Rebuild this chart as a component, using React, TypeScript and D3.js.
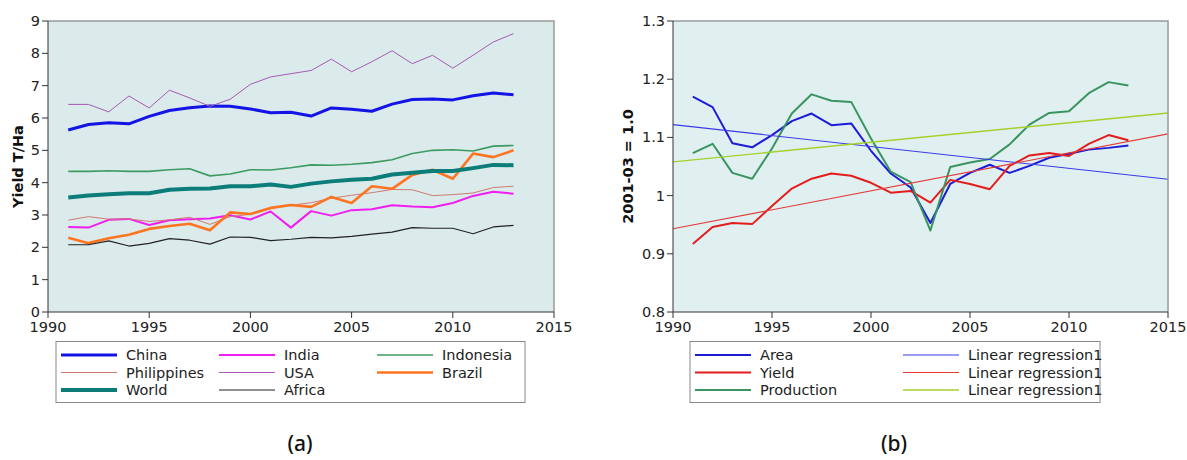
import React from 'react';
import * as d3 from 'd3';

const years = d3.range(1991, 2014);

// panel (a) yields, T/Ha
const china = [5.63, 5.8, 5.85, 5.82, 6.05, 6.23, 6.32, 6.37, 6.36, 6.28, 6.16, 6.18, 6.06, 6.31, 6.27, 6.21, 6.43, 6.57, 6.59, 6.56, 6.69, 6.77, 6.72];
const india = [2.63, 2.61, 2.85, 2.88, 2.69, 2.84, 2.87, 2.89, 2.99, 2.86, 3.11, 2.61, 3.12, 2.98, 3.15, 3.18, 3.3, 3.26, 3.24, 3.37, 3.59, 3.72, 3.66];
const indonesia = [4.35, 4.35, 4.37, 4.35, 4.35, 4.4, 4.43, 4.21, 4.27, 4.4, 4.39, 4.46, 4.55, 4.54, 4.57, 4.62, 4.71, 4.9, 5.0, 5.02, 4.98, 5.13, 5.15];
const philippines = [2.84, 2.95, 2.87, 2.88, 2.8, 2.85, 2.93, 2.71, 2.95, 3.02, 3.2, 3.3, 3.38, 3.52, 3.61, 3.69, 3.79, 3.78, 3.6, 3.63, 3.68, 3.85, 3.89];
const usa = [6.42, 6.42, 6.19, 6.68, 6.31, 6.86, 6.62, 6.36, 6.58, 7.04, 7.27, 7.37, 7.47, 7.82, 7.43, 7.74, 8.08, 7.68, 7.94, 7.54, 7.94, 8.35, 8.61];
const brazil = [2.3, 2.13, 2.28, 2.39, 2.57, 2.66, 2.73, 2.53, 3.08, 3.03, 3.22, 3.31, 3.25, 3.56, 3.37, 3.89, 3.81, 4.24, 4.4, 4.12, 4.9, 4.79, 5.0];
const world = [3.54, 3.6, 3.64, 3.67, 3.67, 3.78, 3.81, 3.82, 3.89, 3.89, 3.94, 3.87, 3.97, 4.04, 4.09, 4.12, 4.25, 4.31, 4.36, 4.36, 4.45, 4.55, 4.54];
const africa = [2.08, 2.08, 2.2, 2.04, 2.12, 2.27, 2.22, 2.1, 2.32, 2.31, 2.21, 2.25, 2.31, 2.29, 2.34, 2.41, 2.47, 2.61, 2.59, 2.59, 2.42, 2.63, 2.68];

// panel (b) index, 2001-03 = 1.0
const area = [1.17, 1.152, 1.09, 1.083, 1.104, 1.128, 1.141, 1.121, 1.124, 1.077, 1.038, 1.014, 0.953, 1.02, 1.039, 1.053, 1.039, 1.051, 1.065, 1.072, 1.079, 1.082, 1.086];
const yieldIdx = [0.917, 0.946, 0.953, 0.951, 0.982, 1.012, 1.029, 1.038, 1.034, 1.022, 1.005, 1.008, 0.988, 1.027, 1.02, 1.011, 1.051, 1.069, 1.073, 1.068, 1.089, 1.104, 1.095];
const production = [1.073, 1.089, 1.039, 1.029, 1.081, 1.141, 1.174, 1.163, 1.161, 1.098, 1.041, 1.023, 0.94, 1.049, 1.057, 1.063, 1.088, 1.122, 1.142, 1.145, 1.176, 1.195, 1.189];
// regression lines, value at 1990 and 2015
const regYears = [1990, 2015];
const regArea = [1.122, 1.028];
const regYield = [0.943, 1.106];
const regProd = [1.058, 1.142];

const xTicks = [1990, 1995, 2000, 2005, 2010, 2015];
const yTicksA = d3.range(0, 10);
const yTicksB = [0.8, 0.9, 1.0, 1.1, 1.2, 1.3];

const seriesA = [
  { name: 'China', values: china, color: '#1414e6', width: 3 },
  { name: 'India', values: india, color: '#f01ef0', width: 2 },
  { name: 'Indonesia', values: indonesia, color: '#3d9b62', width: 1.6 },
  { name: 'Philippines', values: philippines, color: '#d07a74', width: 1 },
  { name: 'USA', values: usa, color: '#a55bb4', width: 1 },
  { name: 'Brazil', values: brazil, color: '#ff7420', width: 2.6 },
  { name: 'World', values: world, color: '#0c7d78', width: 4 },
  { name: 'Africa', values: africa, color: '#222222', width: 1.2 },
];

const seriesB = [
  { name: 'Area', years: years, values: area, color: '#1c1cd8', width: 2 },
  { name: 'Yield', years: years, values: yieldIdx, color: '#e41c1c', width: 2 },
  { name: 'Production', years: years, values: production, color: '#3a9460', width: 2 },
  { name: 'Linear regression1', years: regYears, values: regArea, color: '#3a3ae8', width: 1.1 },
  { name: 'Linear regression1', years: regYears, values: regYield, color: '#e63a3a', width: 1.1 },
  { name: 'Linear regression1', years: regYears, values: regProd, color: '#a6d12a', width: 1.4 },
];

const font = 'DejaVu Sans, sans-serif';
const top = 21;
const bottom = 312;

function Panel({ x0, x1, yDomain, yTicks, fmt, bg, title, titleX, children }: any) {
  const x = d3.scaleLinear().domain([1990, 2015]).range([x0, x1]);
  const y = d3.scaleLinear().domain(yDomain).range([bottom, top]);
  return (
    <g>
      <rect x={x0} y={top} width={x1 - x0} height={bottom - top} fill={bg} />
      {children(x, y)}
      <path d={`M${x0},${top}H${x1}V${bottom}`} fill="none" stroke="#999" strokeWidth={1.5} />
      <path d={`M${x0},${top}V${bottom}H${x1}`} fill="none" stroke="#333" strokeWidth={1} />
      {yTicks.map((t: number) => (
        <g key={t}>
          <line x1={x0 - 6} x2={x0} y1={y(t)} y2={y(t)} stroke="#333" />
          <text x={x0 - 8} y={y(t)} dy="0.35em" textAnchor="end" fontSize={14.5} fill="#222">{fmt(t)}</text>
        </g>
      ))}
      {xTicks.map((t) => (
        <g key={t}>
          <line x1={x(t)} x2={x(t)} y1={bottom} y2={bottom + 6} stroke="#333" />
          <text x={x(t)} y={bottom + 20} textAnchor="middle" fontSize={14.5} fill="#222">{t}</text>
        </g>
      ))}
      <text transform={`translate(${titleX},${(top + bottom) / 2}) rotate(-90)`} textAnchor="middle" dy="0.35em"
        fontSize={14.5} fontWeight="bold" fill="#111">{title}</text>
    </g>
  );
}

function Legend({ x, w, items, cols }: any) {
  const y0 = 341.5;
  return (
    <g>
      <rect x={x} y={y0} width={w} height={61} fill="#fff" stroke="#888" strokeWidth={1} />
      {items.map((s: any, i: number) => {
        const c = cols.length === 3 ? i % 3 : Math.floor(i / 3);
        const r = cols.length === 3 ? Math.floor(i / 3) : i % 3;
        const lx = cols[c];
        const ly = y0 + 13.5 + r * 17.5;
        return (
          <g key={i}>
            <line x1={lx} x2={lx + 56} y1={ly} y2={ly} stroke={s.color} strokeWidth={s.width} />
            <text x={lx + 65} y={ly} dy="0.35em" fontSize={14.5} fill="#222">{s.name}</text>
          </g>
        );
      })}
    </g>
  );
}

export default function App() {
  return (
    <svg width={1187} height={460} style={{ position: 'absolute', left: 0, top: 0, background: '#fff' }} fontFamily={font}>
      <Panel x0={48} x1={554} yDomain={[0, 9]} yTicks={yTicksA} fmt={(d: number) => d3.format('d')(d)}
        bg="#dbeaeb" title="Yield T/Ha" titleX={18}>
        {(x: any, y: any) => {
          const line = d3.line<number>().x((_, i) => x(years[i])).y((d) => y(d));
          return seriesA.map((s) => (
            <path key={s.name} d={line(s.values) || ''} fill="none" stroke={s.color} strokeWidth={s.width} strokeLinejoin="round" />
          ));
        }}
      </Panel>
      <Panel x0={673} x1={1168} yDomain={[0.8, 1.3]} yTicks={yTicksB} fmt={(d: number) => (d === 1 ? '1' : d3.format('.1f')(d))}
        bg="#e0f0f1" title="2001-03 = 1.0" titleX={628}>
        {(x: any, y: any) =>
          seriesB.map((s, k) => {
            const line = d3.line<number>().x((_, i) => x(s.years[i])).y((d) => y(d));
            return <path key={k} d={line(s.values) || ''} fill="none" stroke={s.color} strokeWidth={s.width} strokeLinejoin="round" />;
          })
        }
      </Panel>
      <Legend x={56} w={469} items={seriesA.slice(0, 3).concat(seriesA.slice(3, 6), seriesA.slice(6))} cols={[61, 219, 377]} />
      <Legend x={690} w={410} items={seriesB} cols={[695, 903]} />
      <text x={300} y={451} textAnchor="middle" fontSize={21} fontWeight={500} fontFamily="Noto Sans, sans-serif" fill="#111">(a)</text>
      <text x={894} y={451} textAnchor="middle" fontSize={21} fontWeight={500} fontFamily="Noto Sans, sans-serif" fill="#111">(b)</text>
    </svg>
  );
}
